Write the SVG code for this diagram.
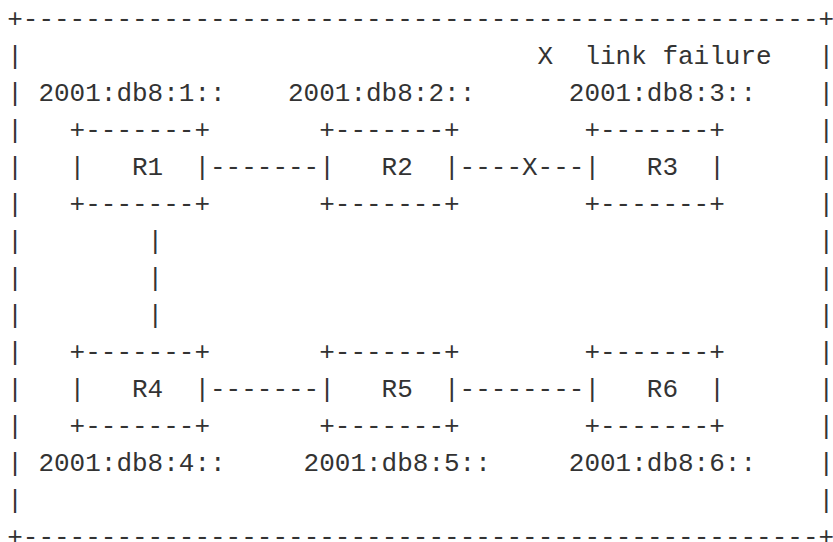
<svg xmlns="http://www.w3.org/2000/svg" width="833" height="542" viewBox="0 0 833 542">
<style>
text{font-family:"Liberation Mono","DejaVu Sans Mono",monospace;font-size:26px;fill:#333;white-space:pre}
</style>
<rect width="833" height="542" fill="#fff"/>
<g id="frame">
<text x="7.2" y="27" xml:space="preserve">+---------------------------------------------------+</text>
<text x="7.2" y="545" xml:space="preserve">+---------------------------------------------------+</text>
<text x="7.2" y="64">|</text><text x="818.4" y="64">|</text>
<text x="7.2" y="101">|</text><text x="818.4" y="101">|</text>
<text x="7.2" y="138">|</text><text x="818.4" y="138">|</text>
<text x="7.2" y="175">|</text><text x="818.4" y="175">|</text>
<text x="7.2" y="212">|</text><text x="818.4" y="212">|</text>
<text x="7.2" y="249">|</text><text x="818.4" y="249">|</text>
<text x="7.2" y="286">|</text><text x="818.4" y="286">|</text>
<text x="7.2" y="323">|</text><text x="818.4" y="323">|</text>
<text x="7.2" y="360">|</text><text x="818.4" y="360">|</text>
<text x="7.2" y="397">|</text><text x="818.4" y="397">|</text>
<text x="7.2" y="434">|</text><text x="818.4" y="434">|</text>
<text x="7.2" y="471">|</text><text x="818.4" y="471">|</text>
<text x="7.2" y="508">|</text><text x="818.4" y="508">|</text>
</g>
<g id="labels">
<text x="537.6" y="64" xml:space="preserve">X  link failure</text>
<text x="38.4" y="101">2001:db8:1::</text>
<text x="288" y="101">2001:db8:2::</text>
<text x="568.8" y="101">2001:db8:3::</text>
<text x="38.4" y="471">2001:db8:4::</text>
<text x="303.6" y="471">2001:db8:5::</text>
<text x="568.8" y="471">2001:db8:6::</text>
</g>
<g id="R1">
<text x="69.6" y="138" xml:space="preserve">+-------+</text>
<text x="69.6" y="175" xml:space="preserve">|   R1  |</text>
<text x="69.6" y="212" xml:space="preserve">+-------+</text>
</g>
<g id="R2">
<text x="319.2" y="138" xml:space="preserve">+-------+</text>
<text x="319.2" y="175" xml:space="preserve">|   R2  |</text>
<text x="319.2" y="212" xml:space="preserve">+-------+</text>
</g>
<g id="R3">
<text x="584.4" y="138" xml:space="preserve">+-------+</text>
<text x="584.4" y="175" xml:space="preserve">|   R3  |</text>
<text x="584.4" y="212" xml:space="preserve">+-------+</text>
</g>
<g id="R4">
<text x="69.6" y="360" xml:space="preserve">+-------+</text>
<text x="69.6" y="397" xml:space="preserve">|   R4  |</text>
<text x="69.6" y="434" xml:space="preserve">+-------+</text>
</g>
<g id="R5">
<text x="319.2" y="360" xml:space="preserve">+-------+</text>
<text x="319.2" y="397" xml:space="preserve">|   R5  |</text>
<text x="319.2" y="434" xml:space="preserve">+-------+</text>
</g>
<g id="R6">
<text x="584.4" y="360" xml:space="preserve">+-------+</text>
<text x="584.4" y="397" xml:space="preserve">|   R6  |</text>
<text x="584.4" y="434" xml:space="preserve">+-------+</text>
</g>
<g id="connectors">
<text x="210" y="175">-------</text>
<text x="459.6" y="175">----X---</text>
<text x="147.6" y="249">|</text>
<text x="147.6" y="286">|</text>
<text x="147.6" y="323">|</text>
<text x="210" y="397">-------</text>
<text x="459.6" y="397">--------</text>
</g>
</svg>
